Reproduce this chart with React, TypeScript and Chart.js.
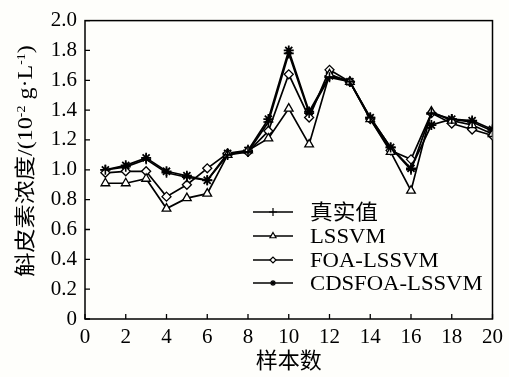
import React, { useEffect, useRef } from "react";
import { Chart, registerables } from "chart.js";
import { drawPoint } from "chart.js/helpers";

Chart.register(...registerables);

const samples = [1, 2, 3, 4, 5, 6, 7, 8, 9, 10, 11, 12, 13, 14, 15, 16, 17, 18, 19, 20];
const trueValues = [1.0, 1.02, 1.07, 0.98, 0.95, 0.93, 1.1, 1.12, 1.32, 1.78, 1.38, 1.62, 1.59, 1.35, 1.15, 1.0, 1.38, 1.34, 1.32, 1.26];
const lssvmValues = [0.91, 0.91, 0.94, 0.74, 0.81, 0.84, 1.1, 1.13, 1.21, 1.41, 1.17, 1.64, 1.59, 1.34, 1.12, 0.86, 1.39, 1.33, 1.3, 1.24];
const foaValues = [0.98, 0.99, 0.99, 0.82, 0.9, 1.01, 1.11, 1.12, 1.26, 1.64, 1.35, 1.67, 1.59, 1.34, 1.13, 1.07, 1.38, 1.31, 1.27, 1.23];
const cdsfoaValues = [1.0, 1.03, 1.08, 0.99, 0.96, 0.93, 1.11, 1.13, 1.34, 1.8, 1.39, 1.63, 1.59, 1.35, 1.15, 1.01, 1.3, 1.34, 1.33, 1.27];
const seriesLabels = ["真实值", "LSSVM", "FOA-LSSVM", "CDSFOA-LSSVM"];
const xTitle = "样本数";
const yTitleParts = [
  { t: "斛皮素浓度/(10", sup: false },
  { t: "-2", sup: true },
  { t: " g·L", sup: false },
  { t: "-1", sup: true },
  { t: ")", sup: false },
];

const BG = "#fefefb";
const FONT = '"Liberation Serif", "Noto Sans CJK SC", serif';

export default function App() {
  const ref = useRef<HTMLCanvasElement>(null);

  useEffect(() => {
    document.body.style.margin = "0";
    document.body.style.background = BG;
    const canvas = ref.current;
    if (!canvas) return;

    const toPts = (arr: number[]) => samples.map((x, i) => ({ x, y: arr[i] }));
    const styles = [
      { pointStyle: "cross", radius: 5, bw: 1.6, legendR: 4 },
      { pointStyle: "triangle", radius: 5, bw: 1.3, legendR: 3.5 },
      { pointStyle: "rectRot", radius: 4.5, bw: 1.3, legendR: 3 },
      { pointStyle: "star", radius: 5, bw: 1.8, legendR: 3 },
    ];
    const values = [trueValues, lssvmValues, foaValues, cdsfoaValues];

    const stretchText = (ctx: any, text: string, x: number, y: number, sx: number) => {
      ctx.save();
      ctx.translate(x, y);
      ctx.scale(sx, 1);
      ctx.fillText(text, 0, 0);
      ctx.restore();
    };

    const frame = {
      id: "frame",
      beforeDatasetsDraw(chart: any) {
        const { ctx, chartArea } = chart;
        const xs = chart.scales.x;
        const ys = chart.scales.y;
        ctx.save();
        ctx.strokeStyle = "#000";
        ctx.lineWidth = 1.5;
        ctx.strokeRect(chartArea.left, chartArea.top, chartArea.right - chartArea.left, chartArea.bottom - chartArea.top);
        ctx.lineWidth = 1.3;
        ctx.beginPath();
        ys.ticks.forEach((t: any) => {
          const y = ys.getPixelForValue(t.value);
          ctx.moveTo(chartArea.left, y);
          ctx.lineTo(chartArea.left + 5, y);
        });
        xs.ticks.forEach((t: any) => {
          const x = xs.getPixelForValue(t.value);
          ctx.moveTo(x, chartArea.bottom);
          ctx.lineTo(x, chartArea.bottom - 5);
        });
        ctx.stroke();
        ctx.restore();
      },
      afterDraw(chart: any) {
        const { ctx, chartArea } = chart;
        ctx.save();
        ctx.fillStyle = "#000";
        // x title
        ctx.font = `22px ${FONT}`;
        ctx.textAlign = "center";
        ctx.textBaseline = "middle";
        ctx.fillText(xTitle, (chartArea.left + chartArea.right) / 2, 362);
        // y title (rotated, with superscripts)
        const sx = 1.15;
        ctx.translate(25, 161);
        ctx.rotate(-Math.PI / 2);
        ctx.scale(sx, 1);
        ctx.textAlign = "left";
        ctx.textBaseline = "alphabetic";
        const normal = `21px ${FONT}`;
        const small = `12px ${FONT}`;
        let total = 0;
        yTitleParts.forEach((p) => {
          ctx.font = p.sup ? small : normal;
          total += ctx.measureText(p.t).width;
        });
        let cx = -total / 2;
        yTitleParts.forEach((p) => {
          ctx.font = p.sup ? small : normal;
          ctx.fillText(p.t, cx, p.sup ? 0 : 7);
          cx += ctx.measureText(p.t).width;
        });
        ctx.restore();

        // legend
        ctx.save();
        const rows = [212, 236, 260, 283];
        chart.data.datasets.forEach((ds: any, i: number) => {
          const y = rows[i];
          ctx.strokeStyle = "#000";
          ctx.lineWidth = 1.3;
          ctx.beginPath();
          ctx.moveTo(253, y);
          ctx.lineTo(293, y);
          ctx.stroke();
          ctx.fillStyle = BG;
          ctx.lineWidth = 1.2;
          drawPoint(ctx, { pointStyle: ds.pointStyle, radius: styles[i].legendR, borderWidth: 1.2, rotation: 0 } as any, 273, y);
          ctx.fillStyle = "#000";
          ctx.font = `21px ${FONT}`;
          ctx.textAlign = "left";
          ctx.textBaseline = "middle";
          stretchText(ctx, ds.label, 310, y + 1, 1.08);
        });
        ctx.restore();
      },
    };

    const chart = new Chart(canvas, {
      type: "line",
      data: {
        datasets: values.map((v, i) => ({
          label: seriesLabels[i],
          data: toPts(v),
          borderColor: "#000",
          backgroundColor: BG,
          borderWidth: 1.7,
          pointStyle: styles[i].pointStyle as any,
          pointRadius: styles[i].radius,
          pointBorderWidth: styles[i].bw,
          pointBorderColor: "#000",
          pointBackgroundColor: BG,
          tension: 0,
          fill: false,
        })),
      },
      options: {
        responsive: false,
        animation: false,
        layout: { padding: { top: 18, right: 12, left: 0, bottom: 0 } },
        plugins: { legend: { display: false }, tooltip: { enabled: false } },
        scales: {
          x: {
            type: "linear",
            min: 0,
            max: 20,
            grid: { display: false, drawTicks: false },
            border: { display: false },
            ticks: { stepSize: 2, color: "#000", font: { family: FONT, size: 21 }, padding: 6, maxRotation: 0 },
            afterFit: (s: any) => {
              s.height = 58;
            },
          },
          y: {
            min: 0,
            max: 2,
            grid: { display: false, drawTicks: false },
            border: { display: false },
            ticks: {
              stepSize: 0.2,
              color: "#000",
              font: { family: FONT, size: 21 },
              padding: 8,
              callback: (v: any) => (Number(v) === 0 ? "0" : Number(v).toFixed(1)),
            },
            afterFit: (s: any) => {
              s.width = 85;
            },
          },
        },
      },
      plugins: [frame],
    });
    return () => chart.destroy();
  }, []);

  return (
    <div style={{ position: "absolute", left: 0, top: 0, width: 509, height: 377, background: BG }}>
      <canvas ref={ref} width={509} height={377} />
    </div>
  );
}
